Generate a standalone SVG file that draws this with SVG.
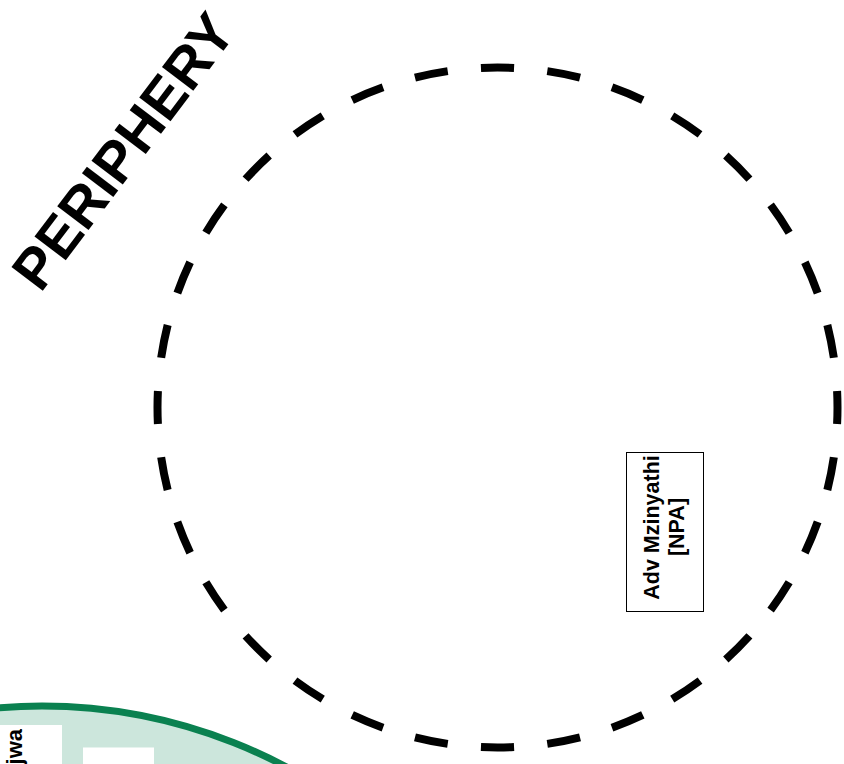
<svg xmlns="http://www.w3.org/2000/svg" width="844" height="764" viewBox="0 0 844 764">
  <style>
    .lbl { font-family: "Liberation Sans", Arial, sans-serif; font-weight: bold; fill: #000; }
    .box { fill: #fff; stroke: #000; stroke-width: 1; }
    .wbox { fill: #fff; stroke: none; }
  </style>
  <rect x="0" y="0" width="844" height="764" fill="#fff"/>
  <g id="periphery">
    <circle cx="497.5" cy="407.5" r="340" fill="none" stroke="#000" stroke-width="8" pathLength="64" stroke-dasharray="1 1" stroke-dashoffset="0.5"/>
    <text class="lbl" x="139" y="163" font-size="57" text-anchor="middle" transform="rotate(-53 139 163)">PERIPHERY</text>
  </g>
  <g id="inner-zone">
    <circle cx="42" cy="1226" r="520" fill="#cce6dc" stroke="#0a8150" stroke-width="7"/>
  </g>
  <g id="node-jwa">
    <rect class="wbox" x="0" y="725" width="62" height="60"/>
    <text class="lbl" font-size="22" text-anchor="end" transform="translate(22 729) rotate(-90)">jwa</text>
  </g>
  <g id="node-2">
    <rect class="wbox" x="83" y="747.5" width="71" height="40"/>
    <text class="lbl" font-size="14" text-anchor="end" transform="translate(110 763) rotate(-90)">i</text>
  </g>
  <g id="node-mzinyathi">
    <rect class="box" x="626.5" y="452.5" width="77" height="159"/>
    <text class="lbl" font-size="21.5" text-anchor="middle" transform="translate(658.5 527.5) rotate(-90)">Adv Mzinyathi</text>
    <text class="lbl" font-size="21.5" text-anchor="middle" transform="translate(684 527) rotate(-90)">[NPA]</text>
  </g>
  <g id="connectors"></g>
</svg>
